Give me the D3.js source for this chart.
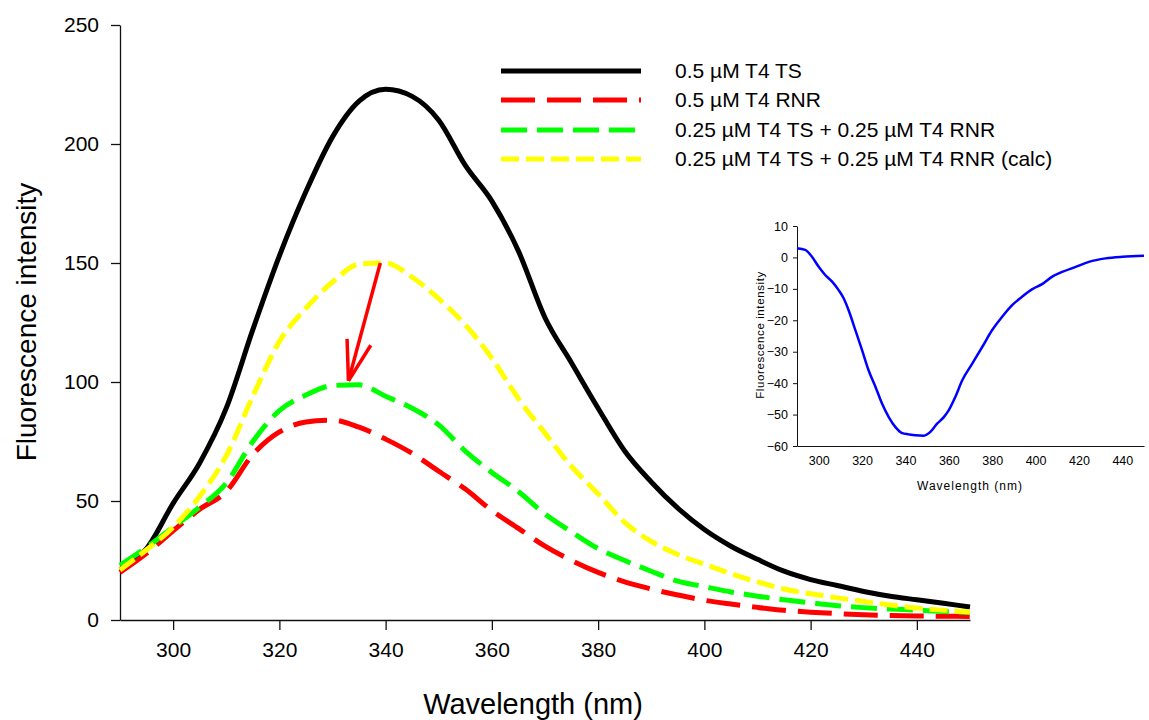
<!DOCTYPE html>
<html>
<head>
<meta charset="utf-8">
<script src="https://cdn.jsdelivr.net/npm/d3@7"></script>
<style>
  body { margin: 0; background: #fff; }
  svg { display: block; font-family: "Liberation Sans", Arial, sans-serif; }
  .axis path, .axis line { stroke: #111; stroke-width: 1.3px; }
  .axis text { fill: #000; }
</style>
</head>
<body>
<svg width="1149" height="720"></svg>
<script>
// wavelengths shared by the four main curves
var wavelength = [290, 295, 300, 305, 310, 315, 320, 325, 330, 335, 340, 345, 350, 355, 360, 365,
  370, 375, 380, 385, 390, 395, 400, 405, 410, 415, 420, 425, 430, 435, 440, 445, 450];

var ts = [21, 30, 49, 66, 89, 122, 153, 180, 203, 218, 223, 220, 210, 191, 176, 155,
  127, 108, 89, 71, 58, 47, 38, 31, 25.5, 20.5, 17, 14.5, 12, 10, 8.5, 7, 5.5];
var rnr = [20, 28, 37.5, 46.5, 54, 69.5, 79, 83.2, 84, 81, 76, 70, 62.5, 55, 46, 38.5,
  31, 25, 20, 16, 13, 10.5, 8.3, 6.7, 5.3, 4.1, 3.3, 2.7, 2.2, 1.9, 1.7, 1.6, 1.5];
var mix = [23, 30.5, 39, 47.5, 57.5, 75, 88, 94.5, 98.5, 98.8, 94, 89, 82, 71, 62, 54,
  44.5, 37, 30, 25, 20.5, 16.3, 14, 11.8, 10, 8.5, 7.2, 6, 5.2, 4.6, 4.1, 3.6, 3.2];
var calc = [21, 29.5, 39, 52, 69, 94, 117, 131, 142, 149.5, 150, 144, 135, 124, 110, 93,
  78.5, 64.5, 53, 41, 33, 27.5, 23.5, 19.5, 16, 13, 11, 9.3, 7.8, 6.3, 5, 4.1, 3.4];

var seriesNames = ["0.5 \u00b5M T4 TS", "0.5 \u00b5M T4 RNR",
  "0.25 \u00b5M T4 TS + 0.25 \u00b5M T4 RNR", "0.25 \u00b5M T4 TS + 0.25 \u00b5M T4 RNR (calc)"];
var seriesColors = ["#000000", "#ff0000", "#00ff00", "#ffff00"];
var seriesDash = [null, "34,12", "26,10", "18,7"];

var xTicks = [300, 320, 340, 360, 380, 400, 420, 440];
var yTicks = [0, 50, 100, 150, 200, 250];

// difference spectrum for the inset
var diffWave = [290, 293.8, 296.9, 300, 303, 306.2, 309.2, 311.5, 313.8, 316.9, 320, 323, 326.2, 329.2,
  332.3, 335.4, 338.5, 341.5, 344.6, 348.5, 351.5, 354.6, 357.7, 360, 363, 366.2, 370.8, 375.4,
  380, 384.6, 389.2, 393.8, 398.5, 403, 407.7, 412.3, 418.5, 424.6, 432.3, 440, 450];
var diffVal = [2.9, 2.4, 0.2, -3, -5.6, -7.7, -10.4, -13, -16.8, -23.1, -29.5, -35.9, -41.2, -46.5,
  -50.8, -54, -55.9, -56.3, -56.6, -56.7, -55.5, -52.9, -50.8, -48.6, -44.4, -39.1, -33.8, -28.5,
  -23.1, -18.9, -15.2, -12.5, -10.1, -8.5, -6.1, -4.6, -3, -1.4, -0.3, 0.2, 0.5];
var insetXTicks = [300, 320, 340, 360, 380, 400, 420, 440];
var insetYTicks = [10, 0, -10, -20, -30, -40, -50, -60];

var svg = d3.select("svg");

// main chart
var x = d3.scaleLinear().domain([290, 450]).range([120, 970]);
var y = d3.scaleLinear().domain([0, 250]).range([620, 25]);

svg.append("g")
    .attr("class", "axis")
    .attr("transform", "translate(0,620)")
    .call(d3.axisBottom(x).tickValues(xTicks).tickSize(10).tickSizeOuter(0).tickPadding(12))
    .selectAll("text").style("font-size", "21px");

svg.append("g")
    .attr("class", "axis")
    .attr("transform", "translate(120,0)")
    .call(d3.axisLeft(y).tickValues(yTicks).tickSize(9).tickSizeOuter(0).tickPadding(12))
    .selectAll("text").style("font-size", "21px");

var series = [ts, rnr, mix, calc];
var line = d3.line()
    .x(function(d, i) { return x(wavelength[i]); })
    .y(function(d) { return y(d); })
    .curve(d3.curveMonotoneX);

series.forEach(function(s, k) {
  svg.append("path")
    .datum(s)
    .attr("d", line)
    .attr("fill", "none")
    .attr("stroke", seriesColors[k])
    .attr("stroke-width", 5)
    .attr("stroke-dasharray", seriesDash[k]);
});

// red arrow from calc peak to measured peak
var a0 = [x(339), y(150)], a1 = [x(333), y(100.5)];
var ang = Math.atan2(a0[1] - a1[1], a0[0] - a1[0]);
var barb = 42, spread = 17 * Math.PI / 180;
var arrow = svg.append("g").attr("stroke", "#ff0000").attr("stroke-width", 3.5).attr("fill", "none");
arrow.append("line").attr("x1", a0[0]).attr("y1", a0[1]).attr("x2", a1[0]).attr("y2", a1[1]);
[-1, 1].forEach(function(sg) {
  arrow.append("line")
    .attr("x1", a1[0]).attr("y1", a1[1])
    .attr("x2", a1[0] + barb * Math.cos(ang + sg * spread))
    .attr("y2", a1[1] + barb * Math.sin(ang + sg * spread));
});

// axis titles
svg.append("text")
    .attr("x", 533).attr("y", 714)
    .attr("text-anchor", "middle")
    .style("font-size", "29px")
    .text("Wavelength (nm)");

svg.append("text")
    .attr("transform", "translate(36,322) rotate(-90)")
    .attr("text-anchor", "middle")
    .style("font-size", "28px")
    .text("Fluorescence intensity");

// legend
var legendY = [71, 100, 130, 159];
seriesNames.forEach(function(name, k) {
  svg.append("line")
    .attr("x1", 501).attr("x2", 641)
    .attr("y1", legendY[k]).attr("y2", legendY[k])
    .attr("stroke", seriesColors[k])
    .attr("stroke-width", 5)
    .attr("stroke-dasharray", seriesDash[k]);
  svg.append("text")
    .attr("x", 675).attr("y", legendY[k] + 7)
    .style("font-size", "21px")
    .text(name);
});

// inset
var ix = d3.scaleLinear().domain([290, 450]).range([797, 1144]);
var iy = d3.scaleLinear().domain([-60, 10]).range([446, 226]);

svg.append("g")
    .attr("class", "axis inset")
    .attr("transform", "translate(0,446)")
    .call(d3.axisBottom(ix).tickValues(insetXTicks).tickSize(0).tickSizeOuter(0).tickPadding(10))
    .selectAll("text").style("font-size", "12.5px");

svg.append("g")
    .attr("class", "axis inset")
    .attr("transform", "translate(797,0)")
    .call(d3.axisLeft(iy).tickValues(insetYTicks).tickSize(4).tickSizeOuter(0).tickPadding(5))
    .selectAll("text").style("font-size", "12.5px");

svg.selectAll(".inset path, .inset line").style("stroke-width", "1px");

var insetLine = d3.line()
    .x(function(d, i) { return ix(diffWave[i]); })
    .y(function(d) { return iy(d); })
    .curve(d3.curveMonotoneX);

svg.append("path")
    .datum(diffVal)
    .attr("d", insetLine)
    .attr("fill", "none")
    .attr("stroke", "#0000ff")
    .attr("stroke-width", 2.5);

svg.append("text")
    .attr("x", 970).attr("y", 490)
    .attr("text-anchor", "middle")
    .style("font-size", "12px")
    .style("letter-spacing", "1px")
    .text("Wavelength (nm)");

svg.append("text")
    .attr("transform", "translate(764,335) rotate(-90)")
    .attr("text-anchor", "middle")
    .style("font-size", "11.5px")
    .style("letter-spacing", "0.6px")
    .text("Fluorescence intensity");
</script>
</body>
</html>
